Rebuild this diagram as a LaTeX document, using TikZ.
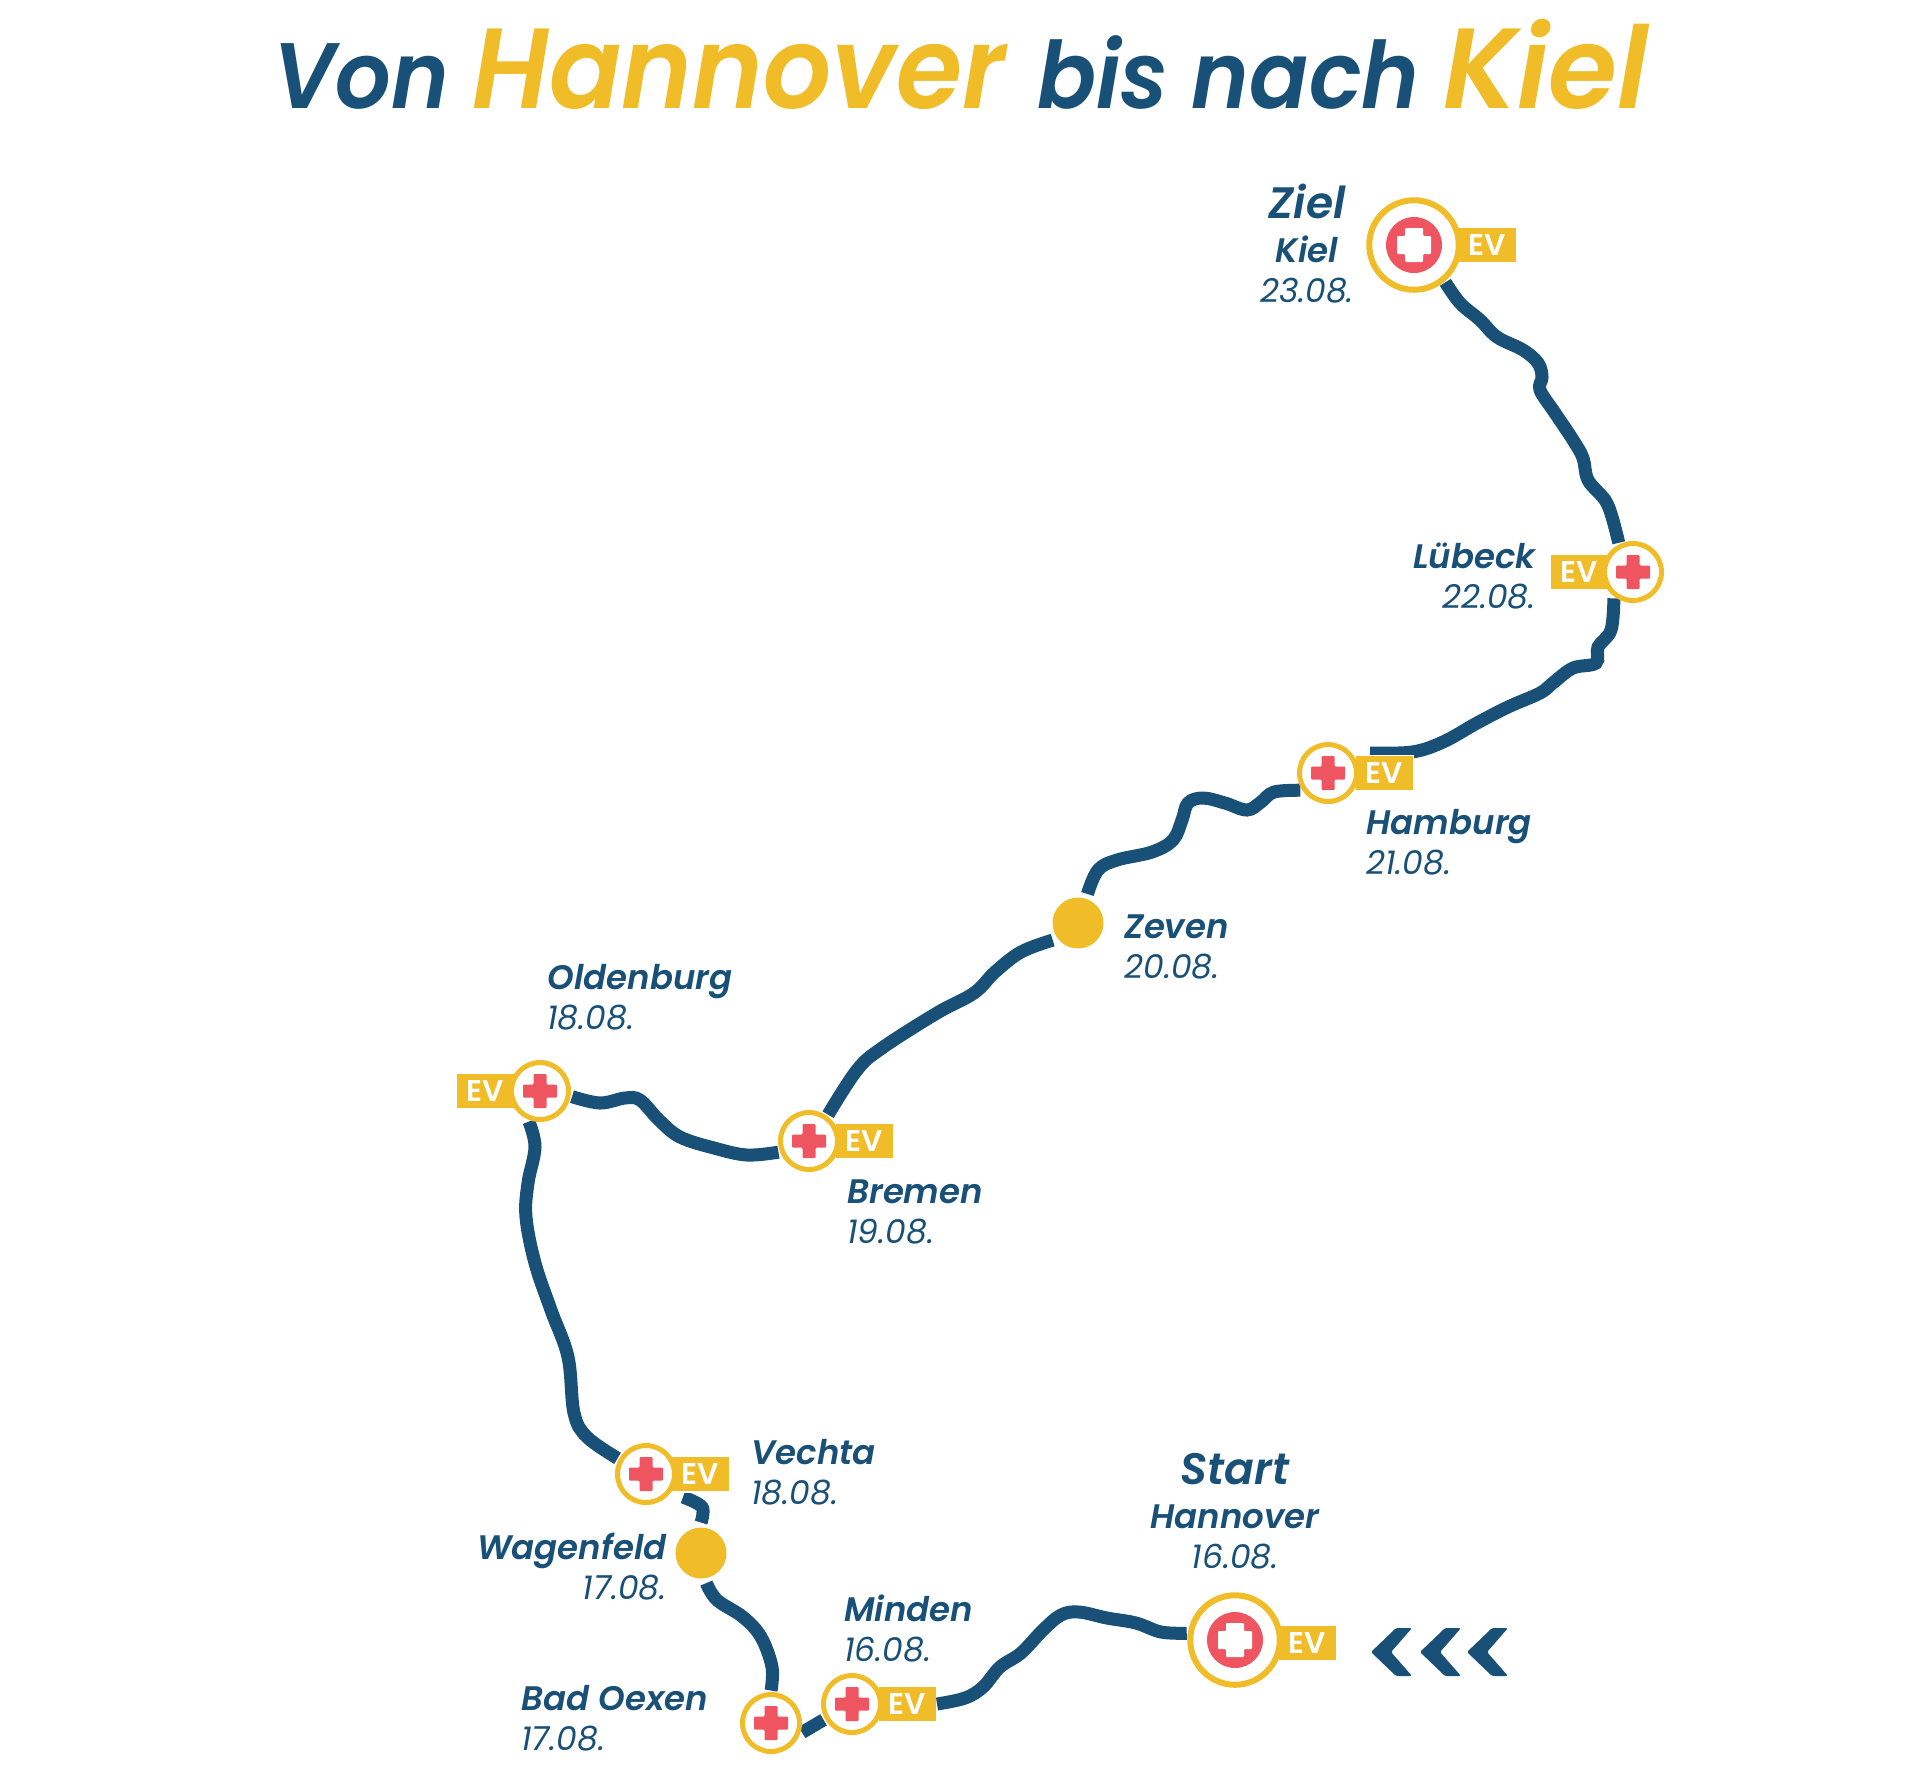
\documentclass[tikz,border=0pt]{standalone}
\usepackage{fontspec}
\setmainfont{Poppins}[BoldFont={Poppins SemiBold}, BoldItalicFont={Poppins SemiBold Italic}]
\newfontfamily\titlefont{Poppins SemiBold Italic}[FakeStretch=0.94]
\newfontfamily\kielfont{Poppins SemiBold Italic}[FakeStretch=0.98]
\usepackage{tikz}
\usetikzlibrary{backgrounds, positioning}
\definecolor{navy}{HTML}{195078}
\definecolor{gold}{HTML}{F0BC27}
\definecolor{stopred}{HTML}{EE5560}
\newcommand{\cityname}{\bfseries\itshape}
\newcommand{\citydate}{\fontsize{16.5}{20}\selectfont\mdseries\itshape}
\newcommand{\goalname}{\fontsize{22}{22}\selectfont\bfseries\itshape}

\begin{document}
\begin{tikzpicture}[x=0.5pt, y=-0.5pt]
\tikzstyle{halt} = [circle, draw=gold, fill=white, line width=2.5pt, inner sep=0pt,
    minimum size=28.5pt, outer sep=2pt]
\tikzstyle{bighalt} = [halt, line width=3pt, minimum size=44.75pt]
\tikzstyle{dot} = [circle, fill=gold, inner sep=0pt, minimum size=25.5pt, outer sep=2.5pt]
\tikzstyle{evtag} = [rectangle, fill=gold, draw=white, line width=0.75pt, text=white, inner sep=0pt,
    minimum width=29.25pt, minimum height=17.75pt, font=\fontsize{15}{15}\selectfont\bfseries]
\tikzstyle{routeline} = [draw=navy, line width=6.5pt]
\tikzstyle{citylabel} = [text=navy, inner sep=0pt, align=left, font=\fontsize{17}{20}\selectfont]
\tikzstyle{smallword} = [inner sep=0pt, anchor=base west, text=navy,
    font=\fontsize{46.5}{46.5}\titlefont]
\tikzstyle{bigword} = [smallword, text=gold, font=\fontsize{57}{57}\titlefont]

 \useasboundingbox (0,0) rectangle (1920,1785);

 % title
 \node [smallword] (von) at (273,108) {Von};
 \node [bigword] (titlehannover) at (472,108) {Hannover};
 \node [smallword] (bisnach) at (1037,108) {bis nach};
 \node [bigword, font=\fontsize{57}{57}\kielfont] (titlekiel) at (1443,108) {Kiel};

 % stops
 \node [bighalt] (ziel) at (1414,245) {};
 \node [halt] (luebeck) at (1633,572) {};
 \node [halt] (hamburg) at (1328,773) {};
 \node [dot] (zeven) at (1078,923) {};
 \node [halt] (bremen) at (809,1141) {};
 \node [halt] (oldenburg) at (540,1091) {};
 \node [halt] (vechta) at (646,1474) {};
 \node [dot] (wagenfeld) at (701,1553) {};
 \node [halt] (oexen) at (771,1723) {};
 \node [halt] (minden) at (852,1704) {};
 \node [bighalt] (hannover) at (1235,1640) {};

 \coordinate (hamburgend) at (1370,753);
 \coordinate (vechtaend) at (683,1497);

 \begin{scope}[on background layer]
 \path [routeline] plot [smooth, tension=0.6] coordinates {(ziel.-50) (1460,303) (1480,320) (1497,337)
    (1523,350) (1538,363) (1542,377) (1540,390) (1555,413) (1573,440) (1583,458) (1588,480)
    (1605,500) (1612,517) (luebeck.116)};
 \path [routeline] plot [smooth, tension=0.6] coordinates {(luebeck.234) (1611,630) (1598,647) (1596,663)
    (1573,668) (1554,682) (1540,693) (1508,707) (1477,723) (1443,742) (1412,752) (hamburgend)};
 \path [routeline] plot [smooth, tension=0.6] coordinates {(hamburg.212) (1274,792) (1261,802) (1247,810)
    (1225,803) (1203,798) (1188,803) (1182,820) (1173,840) (1152,852) (1117,860) (1098,870) (zeven.72)};
 \path [routeline] plot [smooth, tension=0.6] coordinates {(zeven.214) (1021,952) (995,972) (974,993)
    (937,1013) (882,1048) (857,1070) (bremen.54)};
 \path [routeline] plot [smooth, tension=0.6] coordinates {(bremen.200) (747,1155) (714,1148) (680,1137)
    (659,1120) (640,1100) (625,1098) (600,1103) (oldenburg.-10)};
 \path [routeline] plot [smooth, tension=0.6] coordinates {(oldenburg.250) (535,1147) (528,1183) (526,1217)
    (535,1263) (551,1310) (568,1357) (574,1413) (587,1437) (vechta.151)};
 \path [routeline] plot [smooth, tension=0.6] coordinates {(vechtaend) (702,1507) (wagenfeld.90)};
 \path [routeline] plot [smooth, tension=0.6] coordinates {(wagenfeld.-80) (717,1600) (743,1617) (761,1637)
    (772,1667) (oexen.90)};
 \path [routeline] (oexen.-17) -- (minden.209);

 % tags lie over the route, under the rings
 \node [evtag, right of=ziel, node distance=36.5pt] (zieltag) {EV};
 \node [evtag, left of=luebeck, node distance=27pt] (luebecktag) {EV};
 \node [evtag, right of=hamburg, node distance=28pt] (hamburgtag) {EV};
 \node [evtag, right of=bremen, node distance=27.5pt] (brementag) {EV};
 \node [evtag, left of=oldenburg, node distance=27.5pt] (oldenburgtag) {EV};
 \node [evtag, right of=vechta, node distance=27pt] (vechtatag) {EV};
 \node [evtag, right of=minden, node distance=27.5pt] (mindentag) {EV};
 \node [evtag, right of=hannover, node distance=36pt, yshift=-1.5pt] (hannovertag) {EV};

 \path [routeline] plot [smooth, tension=0.6] coordinates {(mindentag.east) (965,1698) (983,1687) (1000,1667)
    (1021,1653) (1043,1630) (1061,1615) (1079,1612) (1107,1618) (1136,1623) (1161,1632) (hannover.172)};
 \end{scope}

 % crosses
 \foreach \stopname in {luebeck, hamburg, bremen, oldenburg, vechta, oexen, minden} {
   \fill [stopred, rounded corners=0.5pt] (\stopname) ++(-6.5,-17) -- ++(13,0) -- ++(0,10.5) -- ++(10.5,0)
      -- ++(0,13) -- ++(-10.5,0) -- ++(0,10.5) -- ++(-13,0) -- ++(0,-10.5) -- ++(-10.5,0) -- ++(0,-13)
      -- ++(10.5,0) -- cycle;
 }
 \foreach \stopname in {ziel, hannover} {
   \fill [stopred] (\stopname) circle (28);
   \fill [white, rounded corners=0.5pt] (\stopname) ++(-9,-17) -- ++(18,0) -- ++(0,8) -- ++(8,0)
      -- ++(0,18) -- ++(-8,0) -- ++(0,8) -- ++(-18,0) -- ++(0,-8) -- ++(-8,0) -- ++(0,-18)
      -- ++(8,0) -- cycle;
 }

 % arrows at the start
 \foreach \cx in {1371, 1420, 1467} {
   \fill [navy, rounded corners=0.75pt] (\cx,1652) -- ++(25,-24) -- ++(16,0) -- ++(-21,24) -- ++(21,24)
      -- ++(-16,0) -- cycle;
 }

 % labels
 \node [citylabel, align=center, anchor=base] (ziellabel) at (1307,302)
    {\goalname Ziel\\[2pt] \cityname Kiel\\ \citydate 23.08.};
 \node [citylabel, align=right, anchor=base east] (luebecklabel) at (1536,608)
    {\cityname Lübeck\\ \citydate 22.08.};
 \node [citylabel, anchor=base west] (hamburglabel) at (1366,874) {\cityname Hamburg\\ \citydate 21.08.};
 \node [citylabel, anchor=base west] (zevenlabel) at (1124,978) {\cityname Zeven\\ \citydate 20.08.};
 \node [citylabel, anchor=base west] (bremenlabel) at (847,1243) {\cityname Bremen\\ \citydate 19.08.};
 \node [citylabel, anchor=base west] (oldenburglabel) at (547,1029) {\cityname Oldenburg\\ \citydate 18.08.};
 \node [citylabel, anchor=base west] (vechtalabel) at (751,1504) {\cityname Vechta\\ \citydate 18.08.};
 \node [citylabel, align=right, anchor=base east] (wagenfeldlabel) at (667,1599)
    {\cityname Wagenfeld\\ \citydate 17.08.};
 \node [citylabel, anchor=base west] (mindenlabel) at (844,1661) {\cityname Minden\\ \citydate 16.08.};
 \node [citylabel, anchor=base west] (oexenlabel) at (521,1750) {\cityname Bad Oexen\\ \citydate 17.08.};
 \node [citylabel, align=center, anchor=base] (startlabel) at (1235,1568)
    {\goalname Start\\[2pt] \cityname Hannover\\ \citydate 16.08.};
\end{tikzpicture}
\end{document}
